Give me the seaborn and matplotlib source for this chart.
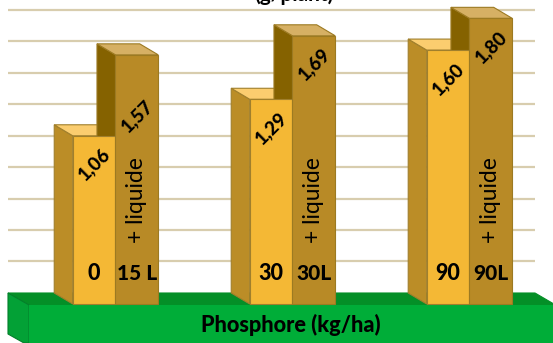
#!/usr/bin/env python
# coding: utf-8

import numpy as np
import pandas as pd
import seaborn as sns
import matplotlib.pyplot as plt
from matplotlib.patches import Polygon
from matplotlib.transforms import ScaledTranslation

sns.set_theme(style="white")
plt.rcParams['font.family'] = ['Lato', 'DejaVu Sans']

W, H = 553, 343
DPI = 100

# values
doses = ["0", "30", "90"]
plain_values = [1.06, 1.29, 1.60]
liquid_values = [1.57, 1.69, 1.80]
plain_labels = ["0", "30", "90"]
liquid_labels = ["15 L", "30L", "90L"]
value_labels_plain = ["1,06", "1,29", "1,60"]
value_labels_liquid = ["1,57", "1,69", "1,80"]
grid_levels = [0.199, 0.397, 0.595, 0.794, 0.992, 1.190, 1.389, 1.587, 1.786]

yellow = dict(front="#f4b835", side="#bb8d27", top="#fbcd6f", edge="#a07f2c")
brown = dict(front="#b88a26", side="#856200", top="#d6b064", edge="#9c7a22")

df = pd.DataFrame({
    "dose": doses * 2,
    "kind": ["plain"] * 3 + ["liquid"] * 3,
    "value": plain_values + liquid_values,
})

fig = plt.figure(figsize=(W / DPI, H / DPI), dpi=DPI)
ax = fig.add_axes([0, 0, 1, 1])

# 3d depth of the boxes is a fixed screen offset
dx, dy = -18.5, 11
back = ax.transData + ScaledTranslation(dx / DPI, dy / DPI, fig.dpi_scale_trans)

sns.barplot(df, x="dose", y="value", hue="kind", hue_order=["plain", "liquid"],
            width=0.483, gap=0, dodge=True, legend=False, saturation=1,
            palette={"plain": yellow["front"], "liquid": brown["front"]}, ax=ax, zorder=5)

ax.set_xlim(-0.6525, 2.472)
ax.set_ylim(-39 / 158.7, 304 / 158.7)
ax.axis("off")

bars = sorted([p for p in ax.patches if p.get_height() > 0], key=lambda p: p.get_x())


def px(x, y):
    return ax.transData.inverted().transform((x, H - y))


def px_poly(points, color, z, edge=None):
    verts = [px(x, y) for x, y in points]
    ax.add_patch(Polygon(verts, closed=True, facecolor=color, edgecolor=edge or color,
                         lw=0.8, zorder=z))


# green plinth
px_poly([(8, 293), (535, 293), (553, 303.5), (553, 305), (29, 305)], "#048f27", 2)
px_poly([(8, 293), (29, 305), (29, 343), (24, 343), (8, 334)], "#03a136", 2, "#037f2a")
px_poly([(29, 304.5), (553, 304.5), (553, 343), (29, 343)], "#00ad38", 2)

# grid on the back wall, seen between the bars
x_l, x_r = px(26.5, 0)[0], px(553.5, 0)[0]
ax.hlines(grid_levels, x_l, x_r, color="#d8cdae", lw=1.6, transform=back, zorder=1)

inv = ax.transData.inverted()
for i, bar in enumerate(bars):
    c = yellow if i % 2 == 0 else brown
    bar.set_edgecolor(c["edge"])
    bar.set_linewidth(0.8)
    x0 = bar.get_x()
    x1 = x0 + bar.get_width()
    top = bar.get_height()
    p_bl = ax.transData.transform((x0, 0))
    p_tl = ax.transData.transform((x0, top))
    p_tr = ax.transData.transform((x1, top))
    side = [p_bl, p_tl, p_tl + (dx, dy), p_bl + (dx, dy)]
    roof = [p_tl, p_tr, p_tr + (dx, dy), p_tl + (dx, dy)]
    ax.add_patch(Polygon(inv.transform(side), closed=True, facecolor=c["side"],
                         edgecolor=c["edge"], lw=0.8, zorder=4))
    ax.add_patch(Polygon(inv.transform(roof), closed=True, facecolor=c["top"],
                         edgecolor=c["edge"], lw=0.8, zorder=4))

# labels on the bars, the 1,57 sits lower than the others
for i in range(3):
    b_plain, b_liquid = bars[2 * i], bars[2 * i + 1]
    xp = b_plain.get_x() + b_plain.get_width() / 2
    xl = b_liquid.get_x() + b_liquid.get_width() / 2
    drop = 0.385 if i == 0 else 0.18
    ax.text(xp, plain_values[i] - 0.18, value_labels_plain[i], rotation=45, ha="center",
            va="center", rotation_mode="anchor", fontsize=13.5, fontweight="black",
            color="black", zorder=7)
    ax.text(xl, liquid_values[i] - drop, value_labels_liquid[i], rotation=45, ha="center",
            va="center", rotation_mode="anchor", fontsize=13.5, fontweight="black",
            color="black", zorder=7)
    ax.text(xp, 0.19, plain_labels[i], ha="center", va="center", fontsize=15.5,
            fontweight="black", color="black", zorder=7)
    ax.text(xl, 0.19, liquid_labels[i], ha="center", va="center", fontsize=15,
            fontweight="black", color="black", zorder=7)
    ax.text(xl, 0.655, "+ liquide", rotation=90, ha="center", va="center", fontsize=16.5,
            color="black", zorder=7)

ax.text(*px(291, 325), "Phosphore (kg/ha)", ha="center", va="center", fontsize=15.7,
        fontweight="black", color="black", zorder=7)
ax.text(*px(294, 1), "(g/plant)", ha="center", va="baseline", fontsize=15,
        fontweight="bold", color="black", zorder=7)

fig.savefig("out.png", dpi=DPI)
